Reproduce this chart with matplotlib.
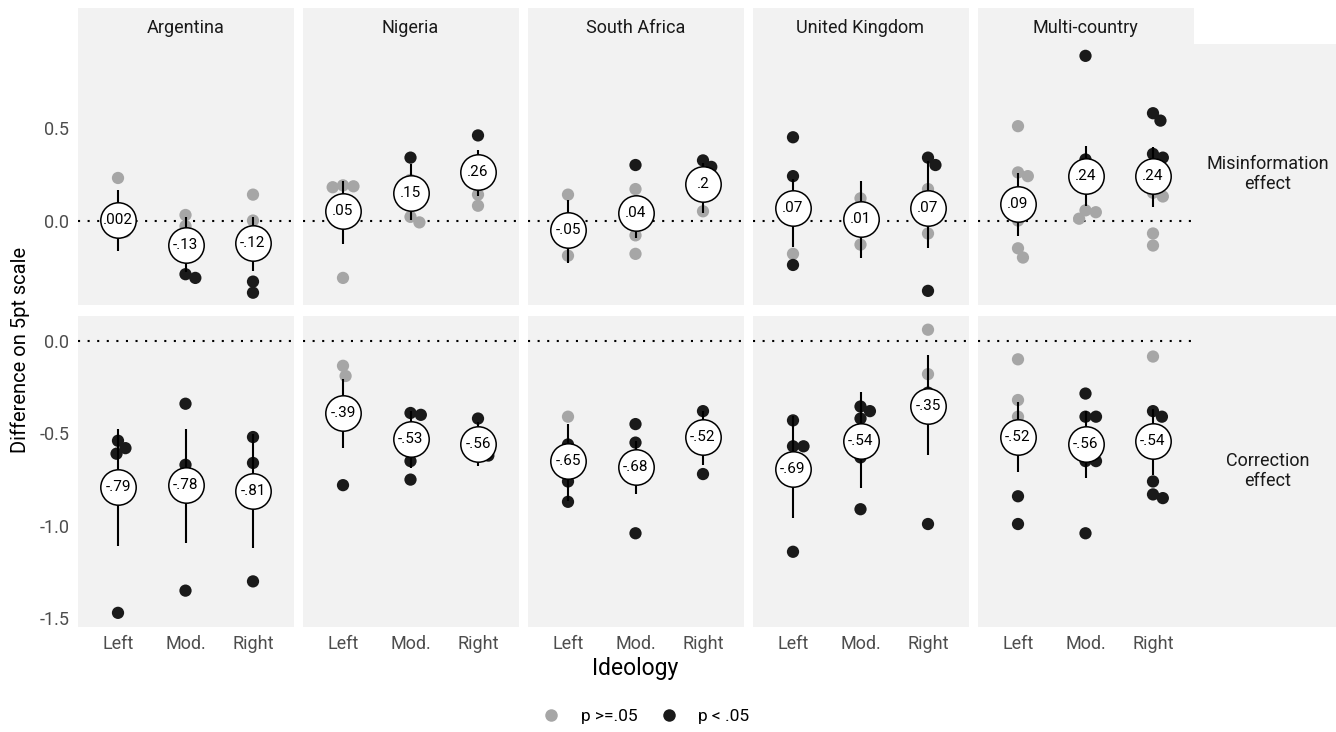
import matplotlib
matplotlib.use("Agg")
import matplotlib.pyplot as plt
from matplotlib.lines import Line2D
import numpy as np

plt.rcParams['font.family'] = ['Roboto', 'DejaVu Sans']

countries = ["Argentina", "Nigeria", "South Africa", "United Kingdom", "Multi-country"]
ideology = ["Left", "Mod.", "Right"]
effects = ["Misinformation\neffect", "Correction\neffect"]

# Pooled estimates with 95% intervals, per country x ideology
misinfo_est = [[0.002, -0.13, -0.12], [0.05, 0.15, 0.26], [-0.05, 0.04, 0.2],
               [0.07, 0.01, 0.07], [0.09, 0.24, 0.24]]
misinfo_lo = [[-0.166, -0.28, -0.27], [-0.126, 0.005, 0.13], [-0.229, -0.094, 0.042],
              [-0.144, -0.205, -0.151], [-0.085, 0.077, 0.072]]
misinfo_hi = [[0.164, 0.02, 0.02], [0.216, 0.303, 0.38], [0.113, 0.135, 0.312],
              [0.222, 0.216, 0.324], [0.258, 0.402, 0.396]]

correction_est = [[-0.79, -0.78, -0.81], [-0.39, -0.53, -0.56], [-0.65, -0.68, -0.52],
                  [-0.69, -0.54, -0.35], [-0.52, -0.56, -0.54]]
correction_lo = [[-1.108, -1.09, -1.12], [-0.577, -0.685, -0.676], [-0.865, -0.83, -0.67],
                 [-0.955, -0.798, -0.616], [-0.708, -0.739, -0.726]]
correction_hi = [[-0.477, -0.477, -0.505], [-0.207, -0.378, -0.441], [-0.45, -0.54, -0.378],
                 [-0.405, -0.276, -0.077], [-0.333, -0.378, -0.366]]

# Study-level effects (dots) and whether each one is significant (p < .05)
misinfo_pts = [
    [[0.23, -0.02, -0.06], [0.03, -0.03, -0.29, -0.31], [0.14, 0.0, -0.33, -0.39]],
    [[0.19, 0.185, 0.18, -0.31], [0.34, 0.22, 0.02, -0.01], [0.46, 0.14, 0.08]],
    [[0.14, -0.19], [0.30, 0.17, -0.08, -0.18], [0.325, 0.29, 0.05]],
    [[0.45, 0.24, -0.18, -0.24], [0.12, -0.13], [0.34, 0.30, 0.17, -0.07, -0.38]],
    [[0.51, 0.26, 0.24, 0.0, -0.15, -0.20], [0.89, 0.33, 0.055, 0.045, 0.01],
     [0.58, 0.54, 0.36, 0.34, 0.15, 0.13, -0.07, -0.135]],
]
misinfo_sig = [
    [[0, 0, 0], [0, 0, 1, 1], [0, 0, 1, 1]],
    [[0, 0, 0, 0], [1, 0, 0, 0], [1, 0, 0]],
    [[0, 0], [1, 0, 0, 0], [1, 1, 0]],
    [[1, 1, 0, 1], [0, 0], [1, 1, 0, 0, 1]],
    [[0, 0, 0, 0, 0, 0], [1, 1, 0, 0, 0], [1, 1, 1, 1, 0, 0, 0, 0]],
]
correction_pts = [
    [[-0.54, -0.58, -0.61, -1.47], [-0.34, -0.67, -1.35], [-0.52, -0.66, -1.30]],
    [[-0.135, -0.19, -0.78], [-0.39, -0.40, -0.65, -0.75], [-0.42, -0.61, -0.62]],
    [[-0.41, -0.56, -0.76, -0.87], [-0.45, -0.55, -1.04], [-0.38, -0.72]],
    [[-0.43, -0.57, -0.57, -1.14], [-0.355, -0.38, -0.42, -0.63, -0.91], [0.06, -0.18, -0.28, -0.99]],
    [[-0.10, -0.32, -0.41, -0.84, -0.99], [-0.285, -0.41, -0.41, -0.65, -0.65, -1.04],
     [-0.085, -0.38, -0.41, -0.76, -0.83, -0.85]],
]
correction_sig = [
    [[1, 1, 1, 1], [1, 1, 1], [1, 1, 1]],
    [[0, 0, 1], [1, 1, 1, 1], [1, 1, 1]],
    [[0, 1, 1, 1], [1, 1, 1], [1, 1]],
    [[1, 1, 1, 1], [1, 1, 1, 1, 1], [0, 0, 1, 1]],
    [[0, 0, 0, 1, 1], [1, 1, 1, 1, 1, 1], [0, 1, 1, 1, 1, 1]],
]

legend_labels = ["p >=.05", "p < .05"]
row_yticks = [[0.0, 0.5], [-1.5, -1.0, -0.5, 0.0]]

rows = [
    (misinfo_est, misinfo_lo, misinfo_hi, misinfo_pts, misinfo_sig),
    (correction_est, correction_lo, correction_hi, correction_pts, correction_sig),
]

PANEL_BG = "#F2F2F2"
NS_COL = "#A6A6A6"
SIG_COL = "#1A1A1A"
TICK_COL = "#4D4D4D"

W, H = 1336, 732
fig = plt.figure(figsize=(W / 100, H / 100), dpi=100)


def px_axes(x0, y0, x1, y1):
    return fig.add_axes([x0 / W, 1 - y1 / H, (x1 - x0) / W, (y1 - y0) / H])


def fmt(v):
    return ("%g" % v).replace("0.", ".", 1)


def row_limits(row):
    est, lo, hi, pts, _ = row
    vals = [0.0]
    for c in range(len(countries)):
        for k in range(len(ideology)):
            vals += [lo[c][k], hi[c][k]] + list(pts[c][k])
    vmin, vmax = min(vals), max(vals)
    pad = 0.05 * (vmax - vmin)
    return vmin - pad, vmax + pad


limits = [row_limits(r) for r in rows]
spans = [b - a for a, b in limits]

# free-y rows sharing one vertical scale
top, bottom, gap = 44.0, 627.0, 11.0
unit = (bottom - top - gap) / sum(spans)
row_px = []
y = top
for s in spans:
    row_px.append((y, y + s * unit))
    y += s * unit + gap

col_w, col_gap, left = 216.0, 9.0, 77.5
col_px = [(left + i * (col_w + col_gap), left + i * (col_w + col_gap) + col_w)
          for i in range(len(countries))]
right_edge = col_px[-1][1]

DOT_PX = 10.5


def swarm(ax, xc, vals):
    disp = ax.transData.transform(np.column_stack([np.full(len(vals), xc), vals]))
    ys = disp[:, 1]
    offs = np.zeros(len(vals))
    placed = []
    for i in np.argsort(-ys):
        yi = ys[i]
        cands = [0.0]
        for px_, py_ in placed:
            dy = abs(yi - py_)
            if dy < DOT_PX:
                dx = np.sqrt(DOT_PX ** 2 - dy ** 2)
                cands += [px_ + dx, px_ - dx]
        cands.sort(key=lambda c: (abs(c), -c))
        for c in cands:
            if all((c - a) ** 2 + (yi - b) ** 2 >= DOT_PX ** 2 - 1e-6 for a, b in placed):
                offs[i] = c
                break
        placed.append((offs[i], yi))
    inv = ax.transData.inverted()
    return inv.transform(np.column_stack([disp[:, 0] + offs, ys]))[:, 0]


xpos = np.arange(len(ideology))

for r, row in enumerate(rows):
    est, lo, hi, pts, sig = row
    y0, y1 = row_px[r]
    for c, country in enumerate(countries):
        x0, x1 = col_px[c]
        ax = px_axes(x0, y0, x1, y1)
        ax.set_facecolor(PANEL_BG)
        for sp in ax.spines.values():
            sp.set_visible(False)
        ax.set_xlim(-0.6, len(ideology) - 0.4)
        ax.set_ylim(*limits[r])
        ax.axhline(0, color="black", lw=1.5, linestyle=(0, (1, 3.6)), zorder=1)
        ax.tick_params(length=0, colors=TICK_COL, labelsize=13)
        ax.set_yticks(row_yticks[r])
        if c == 0:
            ax.set_yticklabels(["%.1f" % t for t in row_yticks[r]])
            ax.tick_params(axis="y", pad=6)
        else:
            ax.set_yticklabels([])
        ax.set_xticks(xpos)
        if r == len(rows) - 1:
            ax.set_xticklabels(ideology)
            ax.tick_params(axis="x", pad=6)
        else:
            ax.set_xticklabels([])

        for k in range(len(ideology)):
            vals = np.asarray(pts[c][k], dtype=float)
            flags = np.asarray(sig[c][k])
            xs = swarm(ax, xpos[k], vals)
            cols = np.where(flags == 1, SIG_COL, NS_COL)
            ax.scatter(xs, vals, s=78, c=list(cols), linewidths=0, zorder=2)
            ax.vlines(xpos[k], lo[c][k], hi[c][k], color="black", lw=1.5, zorder=3)
            ax.scatter([xpos[k]], [est[c][k]], s=650, facecolor="white",
                       edgecolor="black", linewidths=1.1, zorder=4)
            ax.text(xpos[k], est[c][k], fmt(est[c][k]), ha="center", va="center",
                    fontsize=11, color="black", zorder=5)

        if r == 0:
            sax = px_axes(x0, 8, x1, y0)
            sax.set_facecolor(PANEL_BG)
            sax.set_xticks([]); sax.set_yticks([])
            for sp in sax.spines.values():
                sp.set_visible(False)
            sax.text(0.5, 0.45, country, ha="center", va="center", fontsize=13,
                     color="#1A1A1A", transform=sax.transAxes)

    rax = px_axes(right_edge, y0, W, y1)
    rax.set_facecolor(PANEL_BG)
    rax.set_xticks([]); rax.set_yticks([])
    for sp in rax.spines.values():
        sp.set_visible(False)
    rax.text(0.52, 0.5, effects[r], ha="center", va="center", fontsize=13,
             color="#1A1A1A", linespacing=1.15, transform=rax.transAxes)

fig.text(20 / W, 1 - 350 / H, "Difference on 5pt scale", rotation=90,
         ha="center", va="center", fontsize=14.5, color="black")
fig.text((left + right_edge) / 2 / W, 1 - 668 / H, "Ideology", ha="center",
         va="center", fontsize=16.5, color="black")

handles = [Line2D([], [], marker="o", linestyle="none", markersize=9,
                  markerfacecolor=col, markeredgewidth=0)
           for col in (NS_COL, SIG_COL)]
fig.legend(handles, legend_labels, loc="center", ncol=2, frameon=False,
           bbox_to_anchor=(646 / W, 1 - 716 / H), fontsize=12.5, handlelength=1.0,
           handletextpad=1.2, columnspacing=1.3)

fig.savefig("out.png", dpi=100, facecolor="white")
